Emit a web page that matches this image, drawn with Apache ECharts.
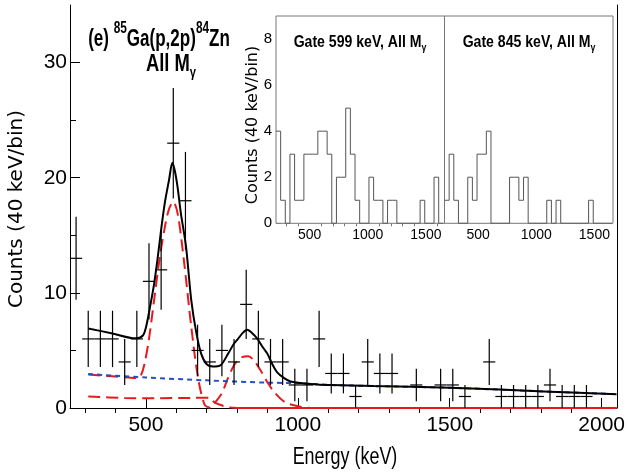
<!DOCTYPE html>
<html><head><meta charset="utf-8">
<script src="https://cdn.jsdelivr.net/npm/echarts@6/dist/echarts.min.js"></script>
<style>html,body{margin:0;padding:0;background:#fff}#c{width:628px;height:475px}</style>
</head><body><div id="c"></div>
<script>
// ---- main spectrum: bin centres (keV) and counts per 40 keV bin ----
const mainEnergy = [270,310,350,390,430,470,510,550,590,630,670,710,750,790,830,870,910,950,990,1030,
  1070,1110,1150,1190,1230,1270,1310,1350,1390,1430,1470,1510,1550,1590,1630,1670,1710,1750,1790,1830,
  1870,1910,1950,1990,2030];
const mainCounts = [13,6,6,6,4,6,11,12,23,18,5,4,5,4,9,6,4,4,2,2,
  6,3,3,1,4,3,3,0,2,0,2,2,1,0,4,1,1,1,1,2,
  1,1,1,0,0];
const binHalfWidth = 20;

// ---- fit curves: [energy, counts] ----
const fitTotal = [[310,6.9],[386,6.5],[466,6.05],[490,6.3],[500,7.0],[515,9.0],[527,10.8],[538,12.9],[550,15.5],
  [562,17.8],[576,19.8],[587,21.3],[595,20.6],[604,19.2],[615,16.9],[632,14.0],[649,9.4],[666,6.5],[682,4.7],
  [700,3.8],[720,3.6],[745,3.7],[770,4.7],[790,5.6],[803,6.0],[818,6.5],[833,6.8],[850,6.5],[867,6.0],[884,5.3],
  [900,4.7],[916,3.8],[932,3.1],[955,2.6],[976,2.3],[1000,2.2],[1064,2.05],[1108,2.0],[1250,1.9],[1500,1.76],
  [1829,1.42],[2049,1.2]];
const fitBackground = [[310,2.95],[500,2.65],[700,2.4],[900,2.2],[1000,2.15],[1108,2.0],[1250,1.9],[1500,1.76],
  [1829,1.42],[2049,1.2]];
const fitPeak599 = [[310,2.9],[390,2.75],[470,2.6],[482,2.75],[495,3.8],[510,6.0],[527,9.4],[545,13.0],[560,15.4],
  [575,17.2],[590,17.9],[605,16.8],[625,12.8],[649,7.1],[671,2.7],[693,0.3],[712,0]];
const fitPeak845 = [[725,0.4],[750,1.3],[770,2.6],[792,3.8],[815,4.4],[837,4.5],[859,4.0],[881,3.1],[903,2.1],
  [925,1.3],[958,0.5],[1000,0.15],[1040,0]];
const fitStep = [[310,1.0],[430,0.87],[540,0.85],[650,0.88],[709,0.9],[725,0.5],[742,0.3],[759,0.15],[780,0.05],[800,0]];
const fitZero = [[800,0],[2050,0]];

// ---- tick values ----
const mainXLabels = [500,1000,1500,2000];
const mainXMinor = [300,400,600,700,800,900,1100,1200,1300,1400,1600,1700,1800,1900];
const mainYLabels = [0,10,20,30];
const mainYMinor = [5,15,25];

// ---- inset gated spectra: 40 keV bins starting at 210 keV ----
const gateBinStart = 210, gateBinWidth = 40;
const counts599 = [4,1,0,3,1,1,3,3,3,4,4,3,0,2,2,5,3,1,0,0,2,1,1,0,1,1,0,0,0,0,0,1,0,0,2,0];
const counts845 = [1,3,1,0,0,2,1,3,3,4,0,0,0,0,2,2,1,2,0,0,0,0,1,0,1,0,0,0,0,0,0,1,0,0,0,0];
const insetXLabels = [500,1000,1500];
const insetXMinor = [300,400,600,700,800,900,1100,1200,1300,1400,1600];
const insetYLabels = [0,2,4,6,8];
const insetYMinor = [1,3,5,7];
const insetYAll = [1,2,3,4,5,6,7,8];

function histPoints(c){
  const pts = c.map((v,i)=>[gateBinStart+i*gateBinWidth, v]);
  pts.push([gateBinStart+c.length*gateBinWidth, c[c.length-1]]);
  return pts;
}

const SANS = '"Liberation Sans", Arial, sans-serif';
const chart = echarts.init(document.getElementById('c'), null, {renderer:'canvas'});
const plain = v => String(v);

const blk = {color:'#000', width:1};
const gry = {color:'#777', width:1};

function mkX(grid, min, max, opts){
  return Object.assign({type:'value', gridIndex:grid, min:min, max:max, splitLine:{show:false}}, opts);
}
function mkY(grid, min, max, opts){
  return Object.assign({type:'value', gridIndex:grid, min:min, max:max, splitLine:{show:false}}, opts);
}

const option = {
  animation:false,
  backgroundColor:'#fff',
  grid:[
    {left:70, top:5, width:550, height:403, show:false},
    {left:276, top:16, width:168.5, height:207.3, show:true, backgroundColor:'#fff', borderColor:'#777', borderWidth:1, z:3},
    {left:444.5, top:16, width:168.5, height:207.3, show:true, backgroundColor:'#fff', borderColor:'#777', borderWidth:1, z:3}
  ],
  xAxis:[
    mkX(0,250,2050,{axisLine:{show:true,lineStyle:blk},
      axisTick:{show:true,inside:true,length:10,customValues:mainXLabels,lineStyle:blk},
      axisLabel:{show:true,customValues:mainXLabels,formatter:plain,fontFamily:SANS,fontSize:21,color:'#000',margin:7}}),
    mkX(0,250,2050,{axisLine:{show:false},axisLabel:{show:false},
      axisTick:{show:true,inside:true,length:5,customValues:mainXMinor,lineStyle:blk}}),
    mkX(1,210,1660,{axisLine:{show:false},
      axisTick:{show:true,inside:true,length:6,customValues:insetXLabels,lineStyle:gry},
      axisLabel:{show:true,customValues:insetXLabels,formatter:plain,fontFamily:SANS,fontSize:14,color:'#000',margin:5}}),
    mkX(1,210,1660,{axisLine:{show:false},axisLabel:{show:false},
      axisTick:{show:true,inside:true,length:3,customValues:insetXMinor,lineStyle:gry}}),
    mkX(2,210,1660,{axisLine:{show:false},
      axisTick:{show:true,inside:true,length:6,customValues:insetXLabels,lineStyle:gry},
      axisLabel:{show:true,customValues:insetXLabels,formatter:plain,fontFamily:SANS,fontSize:14,color:'#000',margin:5}}),
    mkX(2,210,1660,{axisLine:{show:false},axisLabel:{show:false},
      axisTick:{show:true,inside:true,length:3,customValues:insetXMinor,lineStyle:gry}})
  ],
  yAxis:[
    mkY(0,0,35,{position:'left',axisLine:{show:true,lineStyle:blk},
      axisTick:{show:true,inside:true,length:10,customValues:mainYLabels,lineStyle:blk},
      axisLabel:{show:true,customValues:mainYLabels,formatter:plain,fontFamily:SANS,fontSize:21,color:'#000',margin:3}}),
    mkY(0,0,35,{position:'left',axisLine:{show:false},axisLabel:{show:false},
      axisTick:{show:true,inside:true,length:6,customValues:mainYMinor,lineStyle:blk}}),
    mkY(0,0,35,{position:'right',axisLine:{show:true,lineStyle:blk},axisLabel:{show:false},axisTick:{show:false}}),
    mkY(1,0,9,{position:'left',axisLine:{show:false},
      axisTick:{show:true,inside:true,length:5,customValues:insetYLabels,lineStyle:gry},
      axisLabel:{show:true,customValues:insetYLabels,formatter:plain,fontFamily:SANS,fontSize:15,color:'#000',margin:4}}),
    mkY(1,0,9,{position:'left',axisLine:{show:false},axisLabel:{show:false},
      axisTick:{show:true,inside:true,length:3,customValues:insetYMinor,lineStyle:gry}}),
    mkY(2,0,9,{position:'left',axisLine:{show:false},axisLabel:{show:false},
      axisTick:{show:true,inside:true,length:4,customValues:insetYAll,lineStyle:gry}})
  ],
  series:[
    {type:'line',xAxisIndex:0,yAxisIndex:0,data:fitZero,symbol:'none',lineStyle:{color:'#e8191c',width:2},z:2},
    {type:'line',xAxisIndex:0,yAxisIndex:0,data:fitStep,symbol:'none',smooth:0.3,lineStyle:{color:'#e8191c',width:2,type:[12,6]},z:2},
    {type:'line',xAxisIndex:0,yAxisIndex:0,data:fitPeak599,symbol:'none',smooth:0.3,lineStyle:{color:'#e8191c',width:2,type:[12,6]},z:2},
    {type:'line',xAxisIndex:0,yAxisIndex:0,data:fitPeak845,symbol:'none',smooth:0.3,lineStyle:{color:'#e8191c',width:2,type:[12,6]},z:2},
    {type:'line',xAxisIndex:0,yAxisIndex:0,data:fitBackground,symbol:'none',smooth:0.3,lineStyle:{color:'#2350c2',width:2,type:[5,4]},z:3},
    {type:'line',xAxisIndex:0,yAxisIndex:0,data:fitTotal,symbol:'none',smooth:0.3,lineStyle:{color:'#000',width:2},z:4},
    {type:'custom',xAxisIndex:0,yAxisIndex:0,z:5,
      data:mainEnergy.map((e,i)=>[e,mainCounts[i]]),
      encode:{x:0,y:1},
      renderItem:function(params, api){
        const e = api.value(0), c = api.value(1);
        if(!c) return null;
        const err = Math.sqrt(c);
        const p = api.coord([e,c]);
        const hi = api.coord([e,c+err]);
        const lo = api.coord([e,Math.max(c-err,0)]);
        const l = api.coord([e-binHalfWidth,c]);
        const r = api.coord([e+binHalfWidth,c]);
        return {type:'group',children:[
          {type:'line',shape:{x1:p[0],y1:hi[1],x2:p[0],y2:lo[1]},style:{stroke:'#000',lineWidth:1.2}},
          {type:'line',shape:{x1:l[0],y1:p[1],x2:r[0],y2:p[1]},style:{stroke:'#000',lineWidth:1.2}}
        ]};
      }},
    {type:'line',xAxisIndex:2,yAxisIndex:3,data:histPoints(counts599),step:'end',symbol:'none',lineStyle:{color:'#555',width:1},z:6},
    {type:'line',xAxisIndex:4,yAxisIndex:5,data:histPoints(counts845),step:'end',symbol:'none',lineStyle:{color:'#555',width:1},z:6}
  ],
  graphic:[
    {type:'text',x:17,y:209,rotation:Math.PI/2,z:10,style:{text:'Counts (40 keV/bin)',align:'center',verticalAlign:'middle',
      font:'20px "DejaVu Sans", sans-serif',fill:'#000'}},
    {type:'text',x:253,y:125,rotation:Math.PI/2,z:10,style:{text:'Counts (40 keV/bin)',align:'center',verticalAlign:'middle',
      font:'16px "DejaVu Sans", sans-serif',fill:'#000'}},
    {type:'text',x:345,y:458,scaleX:0.78,z:10,style:{text:'Energy (keV)',align:'center',verticalAlign:'middle',
      font:'23px "Liberation Sans", sans-serif',fill:'#000'}},
    {type:'text',x:159,y:36,scaleX:0.74,z:10,style:{
      text:'{m|(e) }{s|85}{m|Ga(p,2p)}{s|84}{m|Zn}',align:'center',verticalAlign:'middle',
      rich:{m:{fontFamily:SANS,fontWeight:'bold',fontSize:23,fill:'#000',verticalAlign:'bottom',padding:[8,0,0,0]},
            s:{fontFamily:SANS,fontWeight:'bold',fontSize:16,fill:'#000',verticalAlign:'top'}}}},
    {type:'text',x:171,y:67,scaleX:0.8,z:10,style:{
      text:'{m|All M}{g|γ}',align:'center',verticalAlign:'middle',
      rich:{m:{fontFamily:SANS,fontWeight:'bold',fontSize:23,fill:'#000',verticalAlign:'top',padding:[0,0,4,0]},
            g:{fontFamily:SANS,fontWeight:'bold',fontSize:14,fill:'#000',verticalAlign:'bottom'}}}},
    {type:'text',x:360,y:44,scaleX:0.88,z:10,style:{
      text:'{m|Gate 599 keV, All M}{g|γ}',align:'center',verticalAlign:'middle',
      rich:{m:{fontFamily:SANS,fontWeight:'bold',fontSize:16,fill:'#000',verticalAlign:'top',padding:[0,0,3,0]},
            g:{fontFamily:SANS,fontWeight:'bold',fontSize:10,fill:'#000',verticalAlign:'bottom'}}}},
    {type:'text',x:529,y:44,scaleX:0.88,z:10,style:{
      text:'{m|Gate 845 keV, All M}{g|γ}',align:'center',verticalAlign:'middle',
      rich:{m:{fontFamily:SANS,fontWeight:'bold',fontSize:16,fill:'#000',verticalAlign:'top',padding:[0,0,3,0]},
            g:{fontFamily:SANS,fontWeight:'bold',fontSize:10,fill:'#000',verticalAlign:'bottom'}}}}
  ]
};
chart.setOption(option);
</script>
</body></html>
